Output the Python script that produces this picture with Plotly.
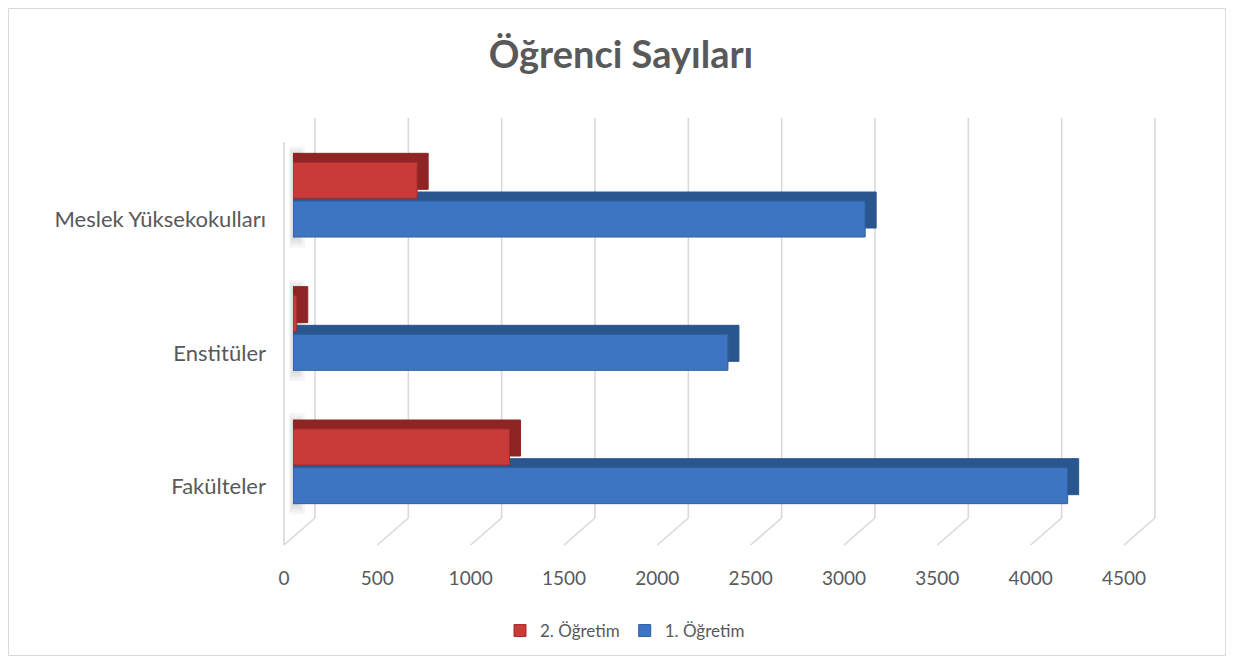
import plotly.graph_objects as go

categories = ["Fakülteler", "Enstitüler", "Meslek Yüksekokulları"]
birinci_ogretim = [4150, 2330, 3065]   # 1. Öğretim
ikinci_ogretim = [1160, 20, 665]       # 2. Öğretim
tick_values = [0, 500, 1000, 1500, 2000, 2500, 3000, 3500, 4000, 4500]
tick_labels = [str(v) for v in tick_values]
x_max = 4500

BLUE, BLUE_D = "#3d75c2", "#2a5690"
RED, RED_D = "#c83b39", "#8f2424"
FONT = "Lato"
GRAY_TXT = "#595959"
GRID = "#d9d9d9"

OFF = 8                    # page body margin
W, H = 1234 - 2 * OFF, 664 - 2 * OFF
L, T = 284 - OFF, 118 - OFF
R, B = (1234 - OFF) - 1155, (664 - OFF) - 545
PW, PH = W - L - R, H - T - B
DX, DY = 31, 27            # floor depth in pixels
AW = PW - DX               # axis length in pixels
bar_dx_units = 59          # depth of bar side faces (~11px)
bar_dy = 0.0675            # depth of bar top faces (~9px)
bw = 0.27

fig = go.Figure()

def add(vals, color, offset, depth, show, name, lc):
    fig.add_trace(go.Bar(
        y=categories, x=[v + depth for v in vals], orientation="h",
        width=bw, offset=offset, marker=dict(color=color, line=dict(color=lc, width=1)),
        name=name, showlegend=show, xaxis="x2", yaxis="y",
        customdata=vals, hovertemplate="%{customdata}<extra>" + name + "</extra>"))

add(birinci_ogretim, BLUE_D, -0.28 + bar_dy, bar_dx_units, False, "1. Öğretim", BLUE_D)
add(birinci_ogretim, BLUE, -0.28, 0, True, "1. Öğretim", "#2f5f9e")
add(ikinci_ogretim, RED_D, 0.01 + bar_dy, bar_dx_units, False, "2. Öğretim", RED_D)
add(ikinci_ogretim, RED, 0.01, 0, True, "2. Öğretim", "#a32d2c")

# invisible trace so the label axis is created
fig.add_trace(go.Scatter(x=[0, x_max], y=[categories[0], categories[0]], xaxis="x3",
                         yaxis="y", mode="markers", marker=dict(opacity=0),
                         showlegend=False, hoverinfo="skip"))

shapes = []
floor = DY / PH
for tv in tick_values:
    fx = tv / x_max * AW / PW
    bx = fx + DX / PW
    # back wall gridline
    shapes.append(dict(type="line", xref="paper", yref="paper", x0=bx, x1=bx,
                       y0=floor, y1=1, line=dict(color=GRID, width=1.6), layer="below"))
    # floor line
    shapes.append(dict(type="line", xref="paper", yref="paper", x0=fx, x1=bx,
                       y0=0, y1=floor, line=dict(color=GRID, width=1.6), layer="below"))
# front edge of left wall
shapes.append(dict(type="line", xref="paper", yref="paper", x0=0, x1=0,
                   y0=0, y1=1 - 24 / PH, line=dict(color=GRID, width=1.6), layer="below"))
# soft shadows of the bars on the left wall
for i in range(len(categories)):
    for k in range(4):
        shapes.append(dict(type="rect", xref="paper", yref="y",
                           x0=(5 + k) / PW, x1=(21 - 2 * k) / PW,
                           y0=i - 0.36 + 0.02 * k, y1=i + 0.40 - 0.02 * k,
                           fillcolor="rgba(0,0,0,0.035)", line=dict(width=0),
                           layer="below"))
# chart border
shapes.append(dict(type="rect", xref="paper", yref="paper",
                   x0=(0.5 - L) / PW, x1=(W - 0.5 - L) / PW,
                   y0=(0.5 - B) / PH, y1=(H - B - 0.5) / PH,
                   line=dict(color="#d9d9d9", width=1)))

fig.update_layout(
    width=W, height=H,
    margin=dict(l=L, r=R, t=T, b=B),
    paper_bgcolor="white", plot_bgcolor="rgba(0,0,0,0)",
    barmode="overlay",
    font=dict(family=FONT, color=GRAY_TXT, size=17),
    title=dict(text="<b>Öğrenci Sayıları</b>", x=(621 - OFF) / W, xref="container",
               xanchor="center", y=1 - (55 - OFF) / H, yanchor="middle",
               font=dict(family=FONT, size=38, color=GRAY_TXT)),
    xaxis2=dict(domain=[9 / PW, (9 + AW) / PW], range=[0, x_max],
                showticklabels=False, showgrid=False, zeroline=False,
                showline=False, anchor="y", fixedrange=True),
    xaxis3=dict(domain=[0, AW / PW], range=[0, x_max], tickvals=tick_values,
                ticktext=tick_labels, showgrid=False, zeroline=False, showline=False,
                anchor="free", position=0, ticklabelstandoff=20,
                tickfont=dict(size=19, color=GRAY_TXT), fixedrange=True),
    yaxis=dict(domain=[DY / PH, 1], type="category", categoryorder="array",
               categoryarray=categories, range=[-0.3875, 2.6125],
               showgrid=False, zeroline=False, showline=False,
               anchor="free", position=0, ticklabelstandoff=18,
               ticklabelshift=20,
               tickfont=dict(size=22, color=GRAY_TXT), fixedrange=True),
    legend=dict(orientation="h", x=(625 - OFF) / W, xref="container",
                xanchor="center", y=1 - (631 - OFF) / H, yref="container",
                yanchor="middle", traceorder="reversed", itemwidth=30,
                font=dict(size=17, color=GRAY_TXT)),
    shapes=shapes,
)

fig.write_html("out.html")
